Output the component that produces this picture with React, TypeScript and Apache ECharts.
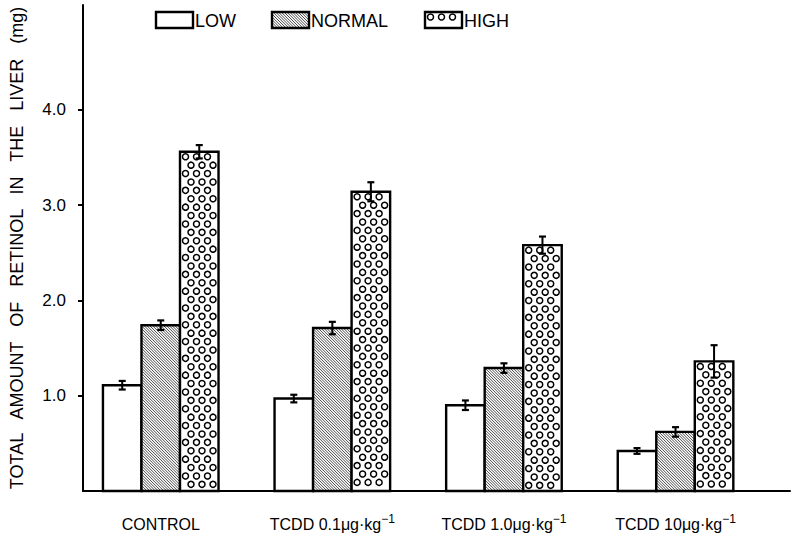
import React, { useEffect, useRef } from "react";
import * as echarts from "echarts";

const categories = ["CONTROL", "TCDD", "TCDD", "TCDD"];
const categoryDose = ["", "0.1", "1.0", "10"];
const seriesNames = ["LOW", "NORMAL", "HIGH"];
const lowValues = [1.11, 0.97, 0.9, 0.42];
const lowErrors = [0.045, 0.04, 0.05, 0.03];
const normalValues = [1.74, 1.71, 1.29, 0.62];
const normalErrors = [0.05, 0.065, 0.05, 0.05];
const highValues = [3.56, 3.14, 2.58, 1.36];
const highErrors = [0.07, 0.1, 0.09, 0.17];
const yTickValues = [1, 2, 3, 4];
const yTitle = "TOTAL   AMOUNT   OF   RETINOL   IN   THE   LIVER   (mg)";

const FONT = "'Liberation Sans', Arial, sans-serif";

function patternElements(kind: number, x: number, y: number, w: number, h: number, borderWidth: number) {
  const els: any[] = [];
  els.push({ type: "rect", shape: { x, y, width: w, height: h }, style: { fill: "#fff", stroke: null } });
  if (kind === 1) {
    const step = 2.8;
    for (let k = -h; k <= w; k += step) {
      const u1 = k >= 0 ? k : 0;
      const v1 = u1 - k;
      const u2 = Math.min(w, k + h);
      const v2 = u2 - k;
      if (u2 <= u1) continue;
      els.push({
        type: "line",
        shape: { x1: x + u1, y1: y + v1, x2: x + u2, y2: y + v2 },
        style: { stroke: "#333", lineWidth: 0.9 },
      });
    }
  } else if (kind === 2) {
    const r = 3;
    const rowStep = 8.4;
    const colStep = 11;
    let row = 0;
    for (let cy = 5; cy <= h - r - 0.5; cy += rowStep, row++) {
      const off = row % 2 === 0 ? 5.5 : 11;
      for (let cx = off; cx <= w - r - 0.8; cx += colStep) {
        els.push({
          type: "circle",
          shape: { cx: x + cx, cy: y + cy, r },
          style: { fill: null, stroke: "#000", lineWidth: 1.5 },
        });
      }
    }
  }
  els.push({
    type: "rect",
    shape: { x, y, width: w, height: h },
    style: { fill: null, stroke: "#000", lineWidth: borderWidth },
  });
  return els;
}

const valueSets = [lowValues, normalValues, highValues];
const errorSets = [lowErrors, normalErrors, highErrors];

export default function App() {
  const ref = useRef<HTMLDivElement>(null);
  useEffect(() => {
    if (!ref.current) return;
    const chart = echarts.init(ref.current, null, { renderer: "svg" });

    const series = seriesNames.map((name, si) => ({
      type: "custom",
      name,
      data: valueSets[si].map((v, i) => [i, v, errorSets[si][i]]),
      renderItem: (params: any, api: any) => {
        const i = api.value(0);
        const v = api.value(1);
        const e = api.value(2);
        const unit = api.size([1, 0])[0];
        const bw = unit * 0.2245;
        const base = api.coord([i, 0]);
        const cx = base[0] + (si - 1) * bw;
        const x0 = cx - bw / 2;
        const top = api.coord([i, v])[1];
        const errTop = api.coord([i, v + e])[1];
        const errBot = api.coord([i, v - e])[1];
        const children = patternElements(si, x0, top, bw, base[1] - top, 2.4);
        const cap = 3.5;
        children.push(
          { type: "line", shape: { x1: cx, y1: errTop, x2: cx, y2: errBot }, style: { stroke: "#000", lineWidth: 2 } },
          { type: "line", shape: { x1: cx - cap, y1: errTop, x2: cx + cap, y2: errTop }, style: { stroke: "#000", lineWidth: 2.2 } },
          { type: "line", shape: { x1: cx - cap, y1: errBot, x2: cx + cap, y2: errBot }, style: { stroke: "#000", lineWidth: 2.2 } }
        );
        return { type: "group", children };
      },
      z: 2,
    }));

    const legendBoxes = [
      { x: 156, text: "LOW" },
      { x: 272, text: "NORMAL" },
      { x: 425, text: "HIGH" },
    ];
    const legendChildren: any[] = [];
    legendBoxes.forEach((b, k) => {
      patternElements(k, b.x, 12, 37, 16, 2.4).forEach((el) => legendChildren.push(el));
      legendChildren.push({
        type: "text",
        x: b.x + 39,
        y: 21,
        style: {
          text: seriesNames[k],
          fontSize: 18,
          fontFamily: FONT,
          fill: "#000",
          verticalAlign: "middle",
          align: "left",
        },
      });
    });

    chart.setOption({
      animation: false,
      backgroundColor: "#fff",
      grid: { left: 80, right: 15, top: 5, bottom: 50 },
      xAxis: {
        type: "value",
        min: -0.453,
        max: 3.667,
        splitLine: { show: false },
        axisLine: { show: true, onZero: false, lineStyle: { color: "#000", width: 2 } },
        axisTick: { show: false },
        axisLabel: {
          customValues: [0, 1, 2, 3],
          margin: 22,
          formatter: (v: number) => {
            const i = Math.round(v);
            if (!categoryDose[i]) return `{n|${categories[i]}}`;
            return `{n|${categories[i]} ${categoryDose[i]}μg·kg}{s|−1}`;
          },
          rich: {
            n: { fontSize: 16, fontFamily: FONT, color: "#000", lineHeight: 22 },
            s: { fontSize: 12, fontFamily: FONT, color: "#000", lineHeight: 22, verticalAlign: "top" },
          },
        },
      },
      yAxis: {
        type: "value",
        min: 0,
        max: 5.1,
        name: yTitle,
        nameLocation: "middle",
        nameRotate: 90,
        nameGap: 57,
        nameTextStyle: { fontSize: 18, fontFamily: FONT, color: "#000" },
        splitLine: { show: false },
        axisLine: { show: true, onZero: false, lineStyle: { color: "#000", width: 2 } },
        axisTick: { show: true, customValues: yTickValues, length: 5, lineStyle: { color: "#000", width: 2 } },
        axisLabel: {
          customValues: yTickValues,
          formatter: (v: number) => v.toFixed(1),
          fontSize: 17,
          fontFamily: FONT,
          color: "#000",
          margin: 17,
        },
      },
      graphic: [{ type: "group", children: legendChildren }],
      series,
    });
    return () => chart.dispose();
  }, []);
  return <div ref={ref} style={{ width: 805, height: 541, position: "absolute", left: 0, top: 0, background: "#fff" }} />;
}
